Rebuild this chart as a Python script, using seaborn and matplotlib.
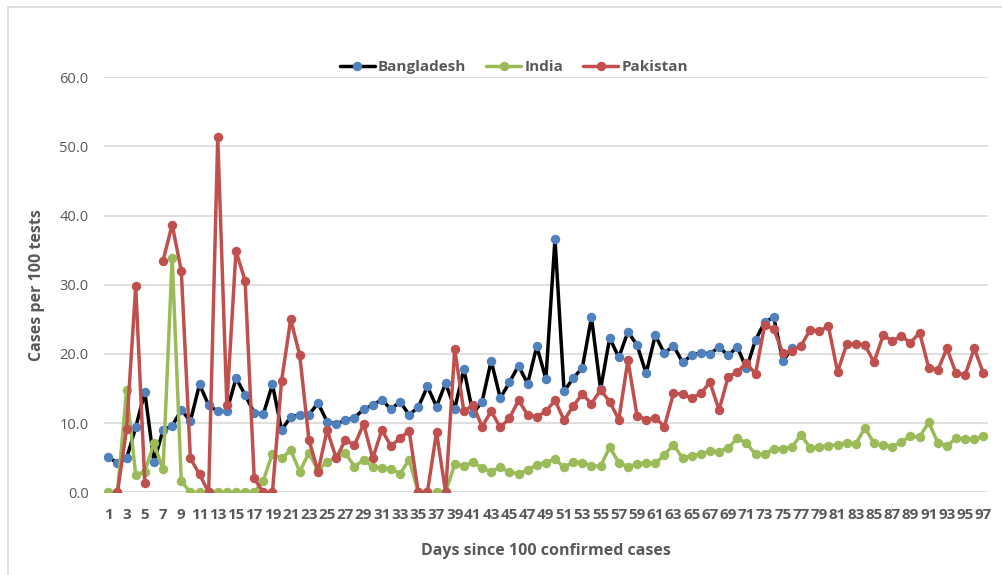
#!/usr/bin/env python3

import numpy as np
import pandas as pd
import matplotlib
matplotlib.use("Agg")
import matplotlib.pyplot as plt
from matplotlib.lines import Line2D
import seaborn as sns

# cases per 100 tests, by days since 100 confirmed cases
days = list(range(1, 98))

bangladesh = [5.1, 4.2, 4.9, 9.4, 14.5, 4.4, 9.0, 9.6, 11.9, 10.3,
              15.6, 12.6, 11.7, 11.7, 16.5, 14.1, 11.5, 11.3, 15.6, 9.0,
              10.9, 11.2, 11.2, 12.9, 10.2, 9.9, 10.4, 10.8, 12.0, 12.6,
              13.4, 12.0, 13.1, 11.2, 12.3, 15.3, 12.4, 15.8, 12.1, 17.8,
              11.4, 13.1, 19.0, 13.6, 15.9, 18.3, 15.7, 21.1, 16.4, 36.6,
              14.6, 16.5, 18.0, 25.3, 14.9, 22.3, 19.5, 23.2, 21.3, 17.2,
              22.7, 20.1, 21.2, 18.8, 19.8, 20.2, 20.0, 21.0, 19.8, 21.0,
              17.9, 22.0, 24.6, 25.3, 19.0, 20.8]

india = [0.0, 0.0, 14.8, 2.5, 3.0, 7.1, 3.3, 33.9, 1.6, 0.0,
         0.0, 0.0, 0.0, 0.0, 0.0, 0.0, 0.0, 1.7, 5.6, 4.9,
         6.1, 3.0, 5.7, 3.2, 4.4, 5.1, 5.7, 3.7, 4.7, 3.7,
         3.5, 3.4, 2.7, 4.7, 0.0, 0.0, 0.0, 0.0, 4.1, 3.8,
         4.4, 3.5, 3.0, 3.6, 2.9, 2.7, 3.2, 4.0, 4.3, 4.8,
         3.6, 4.4, 4.3, 3.8, 3.8, 6.5, 4.3, 3.7, 4.1, 4.3,
         4.2, 5.4, 6.9, 4.9, 5.3, 5.5, 6.0, 5.9, 6.4, 7.8,
         7.1, 5.5, 5.5, 6.3, 6.3, 6.6, 8.3, 6.4, 6.6, 6.7,
         6.9, 7.2, 7.0, 9.3, 7.1, 6.8, 6.6, 7.3, 8.1, 8.0,
         10.1, 7.2, 6.7, 7.8, 7.7, 7.7, 8.1]

pakistan = [None, 0.0, 9.2, 29.8, 1.4, None, 33.5, 38.7, 32.0, 4.9,
            2.6, 0.0, 51.3, 12.6, 34.9, 30.6, 2.0, 0.0, 0.0, 16.1,
            25.0, 19.8, 7.6, 3.0, 9.0, 4.9, 7.6, 6.8, 9.9, 4.9,
            9.0, 6.7, 7.8, 8.9, 0.0, 0.0, 8.7, 0.0, 20.7, 11.7,
            12.6, 9.5, 11.7, 9.4, 10.7, 13.3, 11.2, 10.9, 11.7, 13.3,
            10.4, 12.5, 14.2, 12.8, 14.8, 13.1, 10.5, 19.1, 11.1, 10.5,
            10.8, 9.5, 14.3, 14.2, 13.6, 14.3, 15.9, 11.9, 16.7, 17.4,
            18.7, 17.1, 24.2, 23.6, 20.1, 20.5, 21.2, 23.5, 23.3, 24.0,
            17.4, 21.4, 21.5, 21.3, 18.8, 22.7, 21.9, 22.6, 21.6, 23.1,
            18.0, 17.7, 20.8, 17.2, 17.0, 20.8, 17.2]

countries = ["Bangladesh", "India", "Pakistan"]
series = [bangladesh, india, pakistan]
line_colors = {"Bangladesh": "black", "India": "#9BBB59", "Pakistan": "#C0504D"}
marker_colors = {"Bangladesh": "#4F81BD", "India": "#9BBB59", "Pakistan": "#C0504D"}

TEXT = "#595959"
GRID = "#D9D9D9"


def long_frame():
    # one row per point, a new segment after each missing day so gaps stay open
    rows = []
    for name, vals in zip(countries, series):
        seg = 0
        for d, v in zip(days, vals):
            if v is None:
                seg += 1
                continue
            rows.append({"country": name, "day": d, "value": v, "segment": seg})
    return pd.DataFrame(rows)


df = long_frame()

sns.set_theme(style="white")
plt.rcParams['font.family'] = ['Open Sans', 'DejaVu Sans']

fig = plt.figure(figsize=(10.03, 5.75), dpi=100)
ax = fig.add_axes([0.1035, 0.1438, 0.8815, 0.7218])

for name in countries:
    sub = df[df["country"] == name]
    sns.lineplot(data=sub, x="day", y="value", units="segment", estimator=None,
                 sort=False, color=line_colors[name], linewidth=2.5,
                 marker="o", markersize=6.8, markerfacecolor=marker_colors[name],
                 markeredgecolor=marker_colors[name], markeredgewidth=0,
                 legend=False, ax=ax)

ax.set_xlim(0.5, 97.5)
ax.set_ylim(0, 60)
ax.set_xticks(days[::2])
ax.set_xticklabels([str(d) for d in days[::2]], fontsize=11,
                   fontweight="bold", color=TEXT)
ax.set_yticks(np.arange(0, 61, 10))
ax.set_yticklabels([f"{v:.1f}" for v in np.arange(0, 61, 10)],
                   fontsize=10.5, color=TEXT)
ax.tick_params(axis="x", length=0, pad=11)
ax.tick_params(axis="y", length=0, pad=11)
ax.set_xlabel("")
ax.set_ylabel("")
for s in ax.spines.values():
    s.set_visible(False)
ax.grid(axis="y", color=GRID, linewidth=1.2)
ax.grid(axis="x", visible=False)
ax.set_axisbelow(True)

fig.text(37 / 1003, 1 - 285 / 575, "Cases per 100 tests", rotation=90,
         ha="center", va="center", fontsize=11.5, fontweight="bold", color=TEXT)
fig.text(546 / 1003, 1 - 551 / 575, "Days since 100 confirmed cases",
         ha="center", va="center", fontsize=11.5, fontweight="bold", color=TEXT)

handles = [Line2D([0], [0], color=line_colors[n], linewidth=2.5, marker="o",
                  markersize=6.8, markerfacecolor=marker_colors[n],
                  markeredgewidth=0) for n in countries]
leg = ax.legend(handles, countries, loc="center", ncol=3, frameon=False,
                bbox_to_anchor=(514 / 1003, 1 - 67 / 575),
                bbox_transform=fig.transFigure, handlelength=2.3,
                handletextpad=0.2, columnspacing=1.3,
                prop={"size": 11, "weight": "bold"})
for t in leg.get_texts():
    t.set_color(TEXT)

# outer chart border (top and left edges visible in the crop)
fig.add_artist(Line2D([8 / 1003, 1.0], [1 - 7 / 575, 1 - 7 / 575],
                      transform=fig.transFigure, color=GRID, linewidth=1.2))
fig.add_artist(Line2D([8 / 1003, 8 / 1003], [0.0, 1 - 7 / 575],
                      transform=fig.transFigure, color=GRID, linewidth=1.2))

fig.savefig("out.png", dpi=100)
